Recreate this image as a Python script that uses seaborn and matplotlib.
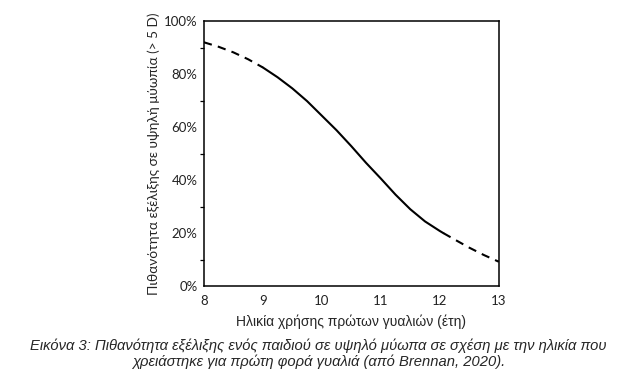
import numpy as np
import pandas as pd
import matplotlib
matplotlib.use("Agg")
import matplotlib.pyplot as plt
from matplotlib.ticker import MultipleLocator, PercentFormatter
import seaborn as sns

# ── Data (age of first glasses vs. probability) ─────────────────────────────
age_early  = [8.0, 8.25, 8.5, 8.75, 9.0]
prob_early = [92.0, 90.3, 88.2, 85.6, 82.5]

age_mid  = [9.0, 9.25, 9.5, 9.75, 10.0, 10.25, 10.5, 10.75, 11.0, 11.25, 11.5, 11.75, 12.0, 12.06]
prob_mid = [82.5, 78.8, 74.6, 69.8, 64.3, 58.8, 52.8, 46.5, 40.6, 34.5, 29.0, 24.4, 20.8, 20.0]

age_late  = [12.06, 12.25, 12.5, 12.75, 13.0]
prob_late = [20.0, 17.6, 14.5, 11.7, 9.2]

x_ticks = [8, 9, 10, 11, 12, 13]

y_label = "Πιθανότητα εξέλιξης σε υψηλή μύωπία (> 5 D)"
x_label = "Ηλικία χρήσης πρώτων γυαλιών (έτη)"
caption = ("Εικόνα 3: Πιθανότητα εξέλιξης ενός παιδιού σε υψηλό μύωπα σε σχέση με την ηλικία που\n"
           "χρειάστηκε για πρώτη φορά γυαλιά (από Brennan, 2020).")

sns.set_style("white")
plt.rcParams["font.family"] = ["Lato", "DejaVu Sans"]

fig = plt.figure(figsize=(6.37, 3.83), dpi=100)
ax = fig.add_axes([0.320, 0.253, 0.463, 0.692])

segments = [
    (age_early, prob_early, (0, (4, 3))),
    (age_mid, prob_mid, "-"),
    (age_late, prob_late, (0, (4, 3))),
]
for xs, ys, ls in segments:
    seg = pd.DataFrame({"age": xs, "prob": ys})
    sns.lineplot(data=seg, x="age", y="prob", ax=ax, color="black",
                 linewidth=1.5, linestyle=ls)

ax.set_xlim(8, 13)
ax.set_ylim(0, 100)
ax.set_xticks(x_ticks)
ax.yaxis.set_major_locator(MultipleLocator(20))
ax.yaxis.set_minor_locator(MultipleLocator(10))
ax.yaxis.set_major_formatter(PercentFormatter(decimals=0))

for side in ["top", "right", "bottom", "left"]:
    ax.spines[side].set_visible(True)
    ax.spines[side].set_color("black")
    ax.spines[side].set_linewidth(1.1)

ax.tick_params(axis="both", which="major", direction="inout", length=5,
               width=0.9, color="black", labelsize=9.5, pad=2,
               labelcolor="#222222")
ax.tick_params(axis="y", which="minor", direction="out", length=3,
               width=0.9, color="black", left=True)
ax.tick_params(axis="x", which="major", pad=4)

ax.set_ylabel(y_label, fontsize=9.8, labelpad=3, family=["Lato", "DejaVu Sans"])
ax.set_xlabel(x_label, fontsize=10, labelpad=5, family=["Liberation Sans", "DejaVu Sans"])

fig.text(0.5, 0.077, caption, ha="center", va="center", fontsize=10.6,
         style="italic", family=["Liberation Sans", "DejaVu Sans"],
         linespacing=1.1)

fig.savefig("out.png", dpi=100)
